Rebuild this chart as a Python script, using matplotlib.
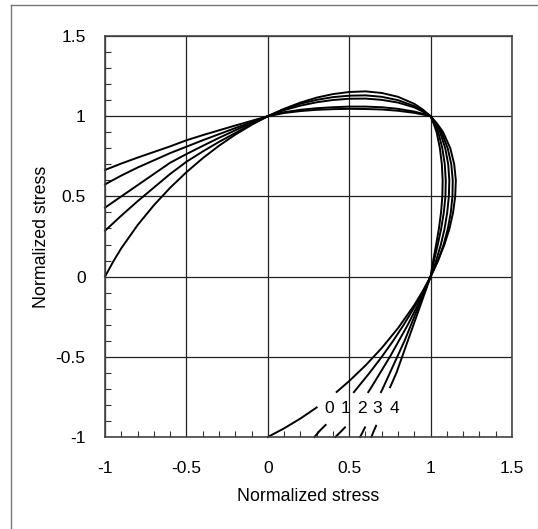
import matplotlib
matplotlib.use('Agg')
import matplotlib.pyplot as plt
from matplotlib.lines import Line2D

plt.rcParams['font.family'] = ['Liberation Sans', 'DejaVu Sans']

# curve 0 .. 4 (normalized stress, x / y)
c0_x = [-1, -0.95, -0.9, -0.8, -0.7, -0.6, -0.5, -0.4, -0.3, -0.2, -0.1, 0,
        0.1, 0.2, 0.3, 0.4, 0.5, 0.6, 0.7, 0.8, 0.9, 0.95, 1,
        1.043, 1.077, 1.121, 1.145, 1.155, 1.151, 1.138, 1.116, 1.085, 1.046, 1,
        0.95, 0.9, 0.8, 0.7, 0.6, 0.5, 0.423]
c0_y = [0, 0.093, 0.177, 0.321, 0.445, 0.554, 0.651, 0.738, 0.816, 0.885, 0.946, 1,
        1.046, 1.085, 1.116, 1.138, 1.151, 1.155, 1.145, 1.121, 1.077, 1.043, 1,
        0.95, 0.9, 0.8, 0.7, 0.6, 0.5, 0.4, 0.3, 0.2, 0.1, 0,
        -0.093, -0.177, -0.321, -0.445, -0.554, -0.651, -0.719]
c0_tail_x = [0.30, 0.2, 0.1, 0]
c0_tail_y = [-0.816, -0.885, -0.946, -1]

c1_x = [-1, -0.9, -0.8, -0.7, -0.6, -0.5, -0.4, -0.3, -0.2, -0.1, 0,
        0.1, 0.2, 0.3, 0.4, 0.5, 0.6, 0.7, 0.8, 0.9, 0.95, 1,
        1.037, 1.067, 1.105, 1.127, 1.136, 1.134, 1.124, 1.106, 1.08, 1.045, 1,
        0.95, 0.895, 0.835, 0.77, 0.7, 0.625, 0.545, 0.529]
c1_y = [0.286, 0.38, 0.47, 0.555, 0.64, 0.716, 0.78, 0.84, 0.895, 0.95, 1,
        1.045, 1.078, 1.102, 1.119, 1.128, 1.13, 1.121, 1.1, 1.063, 1.035, 1,
        0.95, 0.9, 0.8, 0.7, 0.6, 0.5, 0.4, 0.3, 0.2, 0.1, 0,
        -0.1, -0.2, -0.3, -0.4, -0.5, -0.6, -0.7, -0.72]
c1_tail_x = [0.355, 0.32, 0.286]
c1_tail_y = [-0.925, -0.96, -1.0]

c2_x = [-1, -0.9, -0.8, -0.7, -0.6, -0.5, -0.4, -0.3, -0.2, -0.1, 0,
        0.1, 0.2, 0.3, 0.4, 0.5, 0.6, 0.7, 0.8, 0.9, 0.95, 1,
        1.032, 1.058, 1.09, 1.108, 1.115, 1.112, 1.102, 1.086, 1.063, 1.034, 1,
        0.955, 0.91, 0.86, 0.805, 0.75, 0.69, 0.63, 0.617]
c2_y = [0.43, 0.50, 0.57, 0.64, 0.71, 0.764, 0.815, 0.865, 0.912, 0.957, 1,
        1.038, 1.066, 1.087, 1.101, 1.109, 1.11, 1.102, 1.085, 1.055, 1.03, 1,
        0.95, 0.9, 0.8, 0.7, 0.6, 0.5, 0.4, 0.3, 0.2, 0.1, 0,
        -0.1, -0.2, -0.3, -0.4, -0.5, -0.6, -0.7, -0.72]
c2_tail_x = [0.474, 0.445, 0.415]
c2_tail_y = [-0.94, -0.97, -1.0]

c3_x = [-1, -0.9, -0.8, -0.7, -0.6, -0.5, -0.4, -0.3, -0.2, -0.1, 0,
        0.1, 0.2, 0.3, 0.4, 0.5, 0.6, 0.7, 0.8, 0.9, 0.95, 1,
        1.026, 1.047, 1.072, 1.087, 1.093, 1.091, 1.081, 1.065, 1.044, 1.021, 1,
        0.96, 0.92, 0.88, 0.84, 0.795, 0.75, 0.705, 0.695]
c3_y = [0.575, 0.63, 0.68, 0.725, 0.77, 0.81, 0.85, 0.888, 0.926, 0.963, 1,
        1.025, 1.04, 1.05, 1.056, 1.06, 1.06, 1.056, 1.046, 1.029, 1.016, 1,
        0.95, 0.9, 0.8, 0.7, 0.6, 0.5, 0.4, 0.3, 0.2, 0.1, 0,
        -0.1, -0.2, -0.3, -0.4, -0.5, -0.6, -0.7, -0.72]
c3_tail_x = [0.597, 0.582, 0.567]
c3_tail_y = [-0.94, -0.97, -1.0]

c4_x = [-1, -0.9, -0.8, -0.7, -0.6, -0.5, -0.4, -0.3, -0.2, -0.1, 0,
        0.1, 0.2, 0.3, 0.4, 0.5, 0.6, 0.7, 0.8, 0.9, 0.95, 1,
        1.02, 1.037, 1.057, 1.069, 1.074, 1.072, 1.064, 1.051, 1.034, 1.016, 1,
        0.965, 0.93, 0.895, 0.86, 0.825, 0.79, 0.751]
c4_y = [0.665, 0.705, 0.742, 0.777, 0.812, 0.85, 0.882, 0.912, 0.942, 0.971, 1,
        1.02, 1.032, 1.04, 1.044, 1.046, 1.045, 1.042, 1.034, 1.021, 1.011, 1,
        0.95, 0.9, 0.8, 0.7, 0.6, 0.5, 0.4, 0.3, 0.2, 0.1, 0,
        -0.1, -0.2, -0.3, -0.4, -0.5, -0.6, -0.69]
c4_tail_x = [0.665, 0.65, 0.636]
c4_tail_y = [-0.93, -0.965, -1.0]

curve_labels = ['0', '1', '2', '3', '4']
label_x = [0.378, 0.48, 0.577, 0.672, 0.775]
label_y = -0.82

ticks = [-1, -0.5, 0, 0.5, 1, 1.5]
tick_labels = ['-1', '-0.5', '0', '0.5', '1', '1.5']

fig = plt.figure(figsize=(5.38, 5.29), dpi=100)
ax = fig.add_axes([0.1952, 0.1739, 0.7565, 0.758])

# frame around the whole picture (left + top visible)
fig.add_artist(Line2D([11/538, 11/538], [0, 1 - 5/529], transform=fig.transFigure,
                      color='#777777', lw=1.0))
fig.add_artist(Line2D([11/538, 1], [1 - 5/529, 1 - 5/529], transform=fig.transFigure,
                      color='#777777', lw=1.0))

ax.set_xlim(-1, 1.5)
ax.set_ylim(-1, 1.5)
ax.set_xticks(ticks)
ax.set_yticks(ticks)
ax.set_xticklabels(tick_labels)
ax.set_yticklabels(tick_labels)
ax.set_xticks([i / 10 for i in range(-10, 16)], minor=True)
ax.set_yticks([i / 10 for i in range(-10, 16)], minor=True)
ax.tick_params(which='major', length=0, labelsize=12.5)
ax.tick_params(axis='x', which='major', pad=17)
ax.tick_params(axis='y', which='major', pad=14)
ax.tick_params(which='minor', direction='in', length=4, width=0.8, color='#333333')
ax.grid(True, which='major', color='#222222', lw=0.9)
ax.set_axisbelow(True)
for s in ax.spines.values():
    s.set_color('#444444')
    s.set_linewidth(1.2)

curves = [(c0_x, c0_y, c0_tail_x, c0_tail_y),
          (c1_x, c1_y, c1_tail_x, c1_tail_y),
          (c2_x, c2_y, c2_tail_x, c2_tail_y),
          (c3_x, c3_y, c3_tail_x, c3_tail_y),
          (c4_x, c4_y, c4_tail_x, c4_tail_y)]
for cx, cy, tx, ty in curves:
    ax.plot(cx, cy, color='black', lw=1.4, solid_joinstyle='round', clip_on=False)
    ax.plot(tx, ty, color='black', lw=1.4, clip_on=False)

for lab, lx in zip(curve_labels, label_x):
    ax.text(lx, label_y, lab, fontsize=12.5, ha='center', va='center')

ax.set_xlabel('Normalized stress', fontsize=12.8)
ax.set_ylabel('Normalized stress', fontsize=12.8)
ax.xaxis.set_label_coords(0.5, -0.148)
ax.yaxis.set_label_coords(-0.157, 0.5)
ax.xaxis.label.set_va('center')
ax.yaxis.label.set_va('center')

fig.savefig('out.png', dpi=100)
